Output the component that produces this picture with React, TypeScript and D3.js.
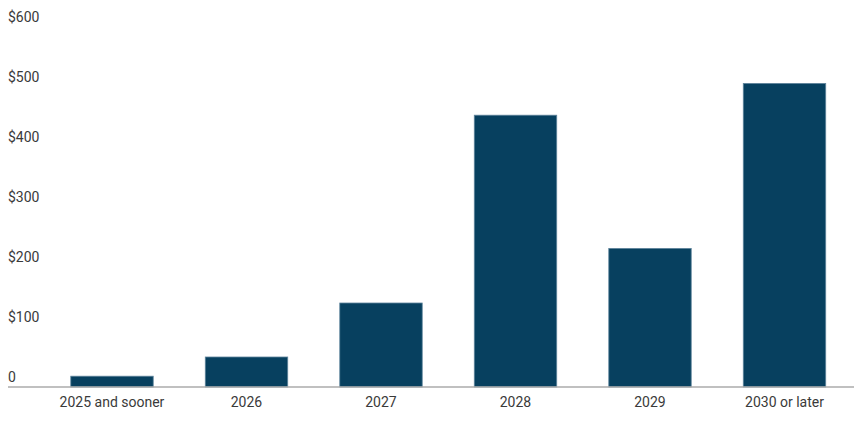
import React from "react";
import * as d3 from "d3";

const categories = ["2025 and sooner", "2026", "2027", "2028", "2029", "2030 or later"];
const values = [18, 50, 140, 453, 231, 506];
const yTicks = [0, 100, 200, 300, 400, 500, 600];
const yTickLabels = ["0", "$100", "$200", "$300", "$400", "$500", "$600"];

const W = 867;
const H = 430;

export default function App() {
  const x = d3.scaleBand<string>().domain(categories).range([44.75, 851.75]).paddingInner(0.387).paddingOuter(0.1935);
  const y = d3.scaleLinear().domain([0, 600]).range([387, 27]);
  const font = "Roboto, 'Liberation Sans', sans-serif";
  return (
    <svg width={W} height={H} style={{ position: "absolute", left: 0, top: 0, background: "#fff" }}>
      {yTicks.map((t, i) => (
        <text key={t} x={8} y={y(t) - 9} dominantBaseline="middle" fontFamily={font} fontSize={14} fill="#3a3a3a">
          {yTickLabels[i]}
        </text>
      ))}
      {categories.map((c, i) => (
        <rect
          key={c}
          x={x(c)}
          y={y(values[i])}
          width={x.bandwidth()}
          height={y(0) - y(values[i])}
          fill="#07405f"
          stroke="#5f849c"
          strokeWidth={0.8}
        />
      ))}
      <line x1={8} x2={854} y1={y(0)} y2={y(0)} stroke="#ababab" strokeWidth={1.5} />
      {categories.map((c) => (
        <text key={c} x={(x(c) as number) + x.bandwidth() / 2} y={403} textAnchor="middle" dominantBaseline="middle" fontFamily={font} fontSize={14} fill="#3a3a3a">
          {c}
        </text>
      ))}
    </svg>
  );
}
